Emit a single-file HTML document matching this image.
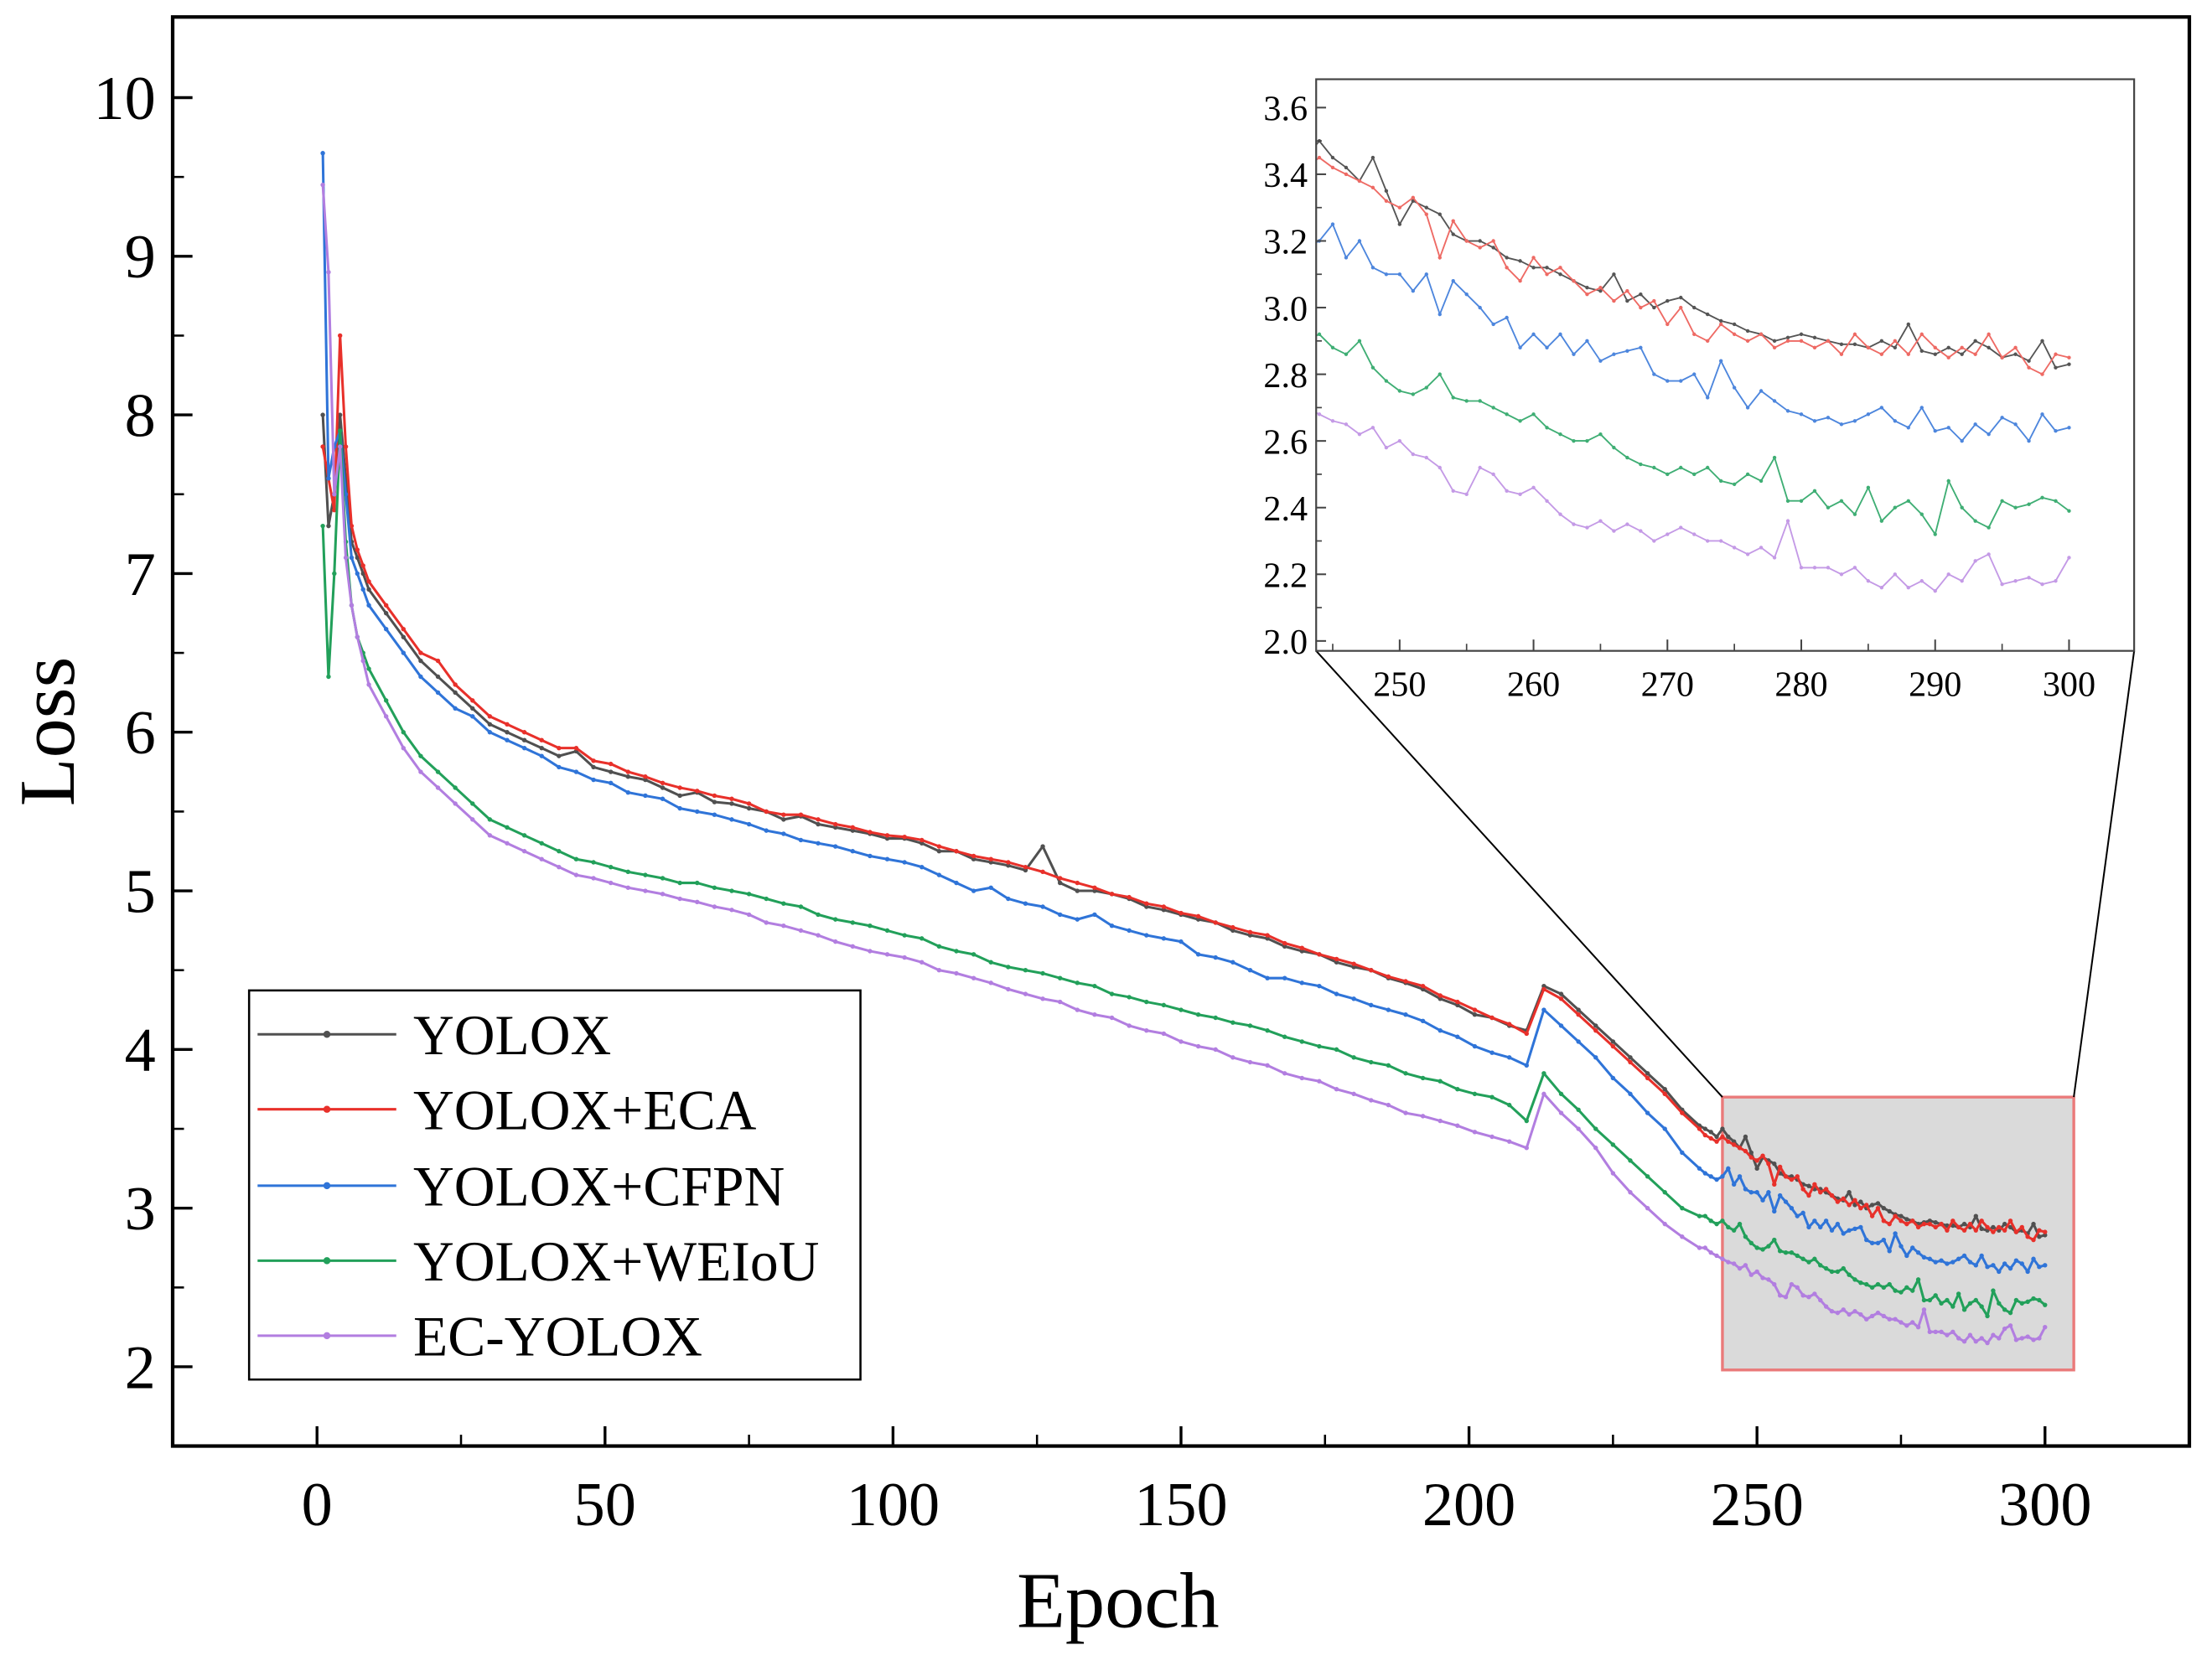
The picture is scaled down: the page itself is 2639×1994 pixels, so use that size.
<!DOCTYPE html>
<html><head><meta charset="utf-8"><style>html,body{margin:0;padding:0;background:#fff}svg{display:block}text{font-family:"Liberation Serif",serif}</style></head>
<body>
<svg id="chart" width="2639" height="1994" viewBox="0 0 1563 1181" xmlns="http://www.w3.org/2000/svg">
<defs>
<clipPath id="mainClip"><rect x="122" y="12" width="1425" height="1010"/></clipPath>
<clipPath id="insetClip"><rect x="930" y="56" width="578" height="404"/></clipPath>
</defs>
<rect x="0" y="0" width="1563" height="1181" fill="#fff"/>
<g id="zoomBox"></g>
<g id="mainSeries" clip-path="url(#mainClip)"></g>
<g id="axes"></g>
<g id="inset"></g>
<g id="legend"></g>
</svg>
<script>
const seriesNames = ["YOLOX","YOLOX+ECA","YOLOX+CFPN","YOLOX+WEIoU","EC-YOLOX"];
const xTicks = [0,50,100,150,200,250,300];
const yTicks = [2,3,4,5,6,7,8,9,10];
const insetXTicks = [250,260,270,280,290,300];
const insetYTicks = [2.0,2.2,2.4,2.6,2.8,3.0,3.2,3.4,3.6];
const epochsEarly = [1,2,3,4,5,6,7,8,9];
const epochsMidStart = 12, epochsMidEnd = 240, epochsMidStep = 3;
const epochsLateStart = 241, epochsLateEnd = 300;
const yolox = [8.0,7.3,7.5,8.0,7.6,7.2,7.1,7.0,6.9,
6.75,6.6,6.45,6.35,6.25,6.15,6.05,6.0,5.95,5.9,
5.85,5.88,5.78,5.75,5.72,5.7,5.65,5.6,5.62,5.56,
5.55,5.52,5.5,5.45,5.47,5.42,5.4,5.38,5.36,5.33,
5.33,5.3,5.25,5.25,5.2,5.18,5.16,5.13,5.28,5.05,
5.0,5.0,4.98,4.95,4.9,4.88,4.85,4.82,4.8,4.75,
4.72,4.7,4.65,4.62,4.6,4.55,4.52,4.5,4.45,4.42,
4.38,4.32,4.28,4.22,4.2,4.15,4.12,4.4,4.35,4.25,
4.15,4.05,3.95,3.85,3.75,3.62,3.52,
3.5,3.48,3.45,3.5,3.45,3.42,3.38,3.45,3.35,3.25,
3.32,3.3,3.28,3.22,3.2,3.2,3.18,3.15,3.14,3.12,
3.12,3.1,3.08,3.06,3.05,3.1,3.02,3.04,3.0,3.02,
3.03,3.0,2.98,2.96,2.95,2.93,2.92,2.9,2.91,2.92,
2.91,2.9,2.89,2.89,2.88,2.9,2.88,2.95,2.87,2.86,
2.88,2.86,2.9,2.88,2.85,2.86,2.84,2.9,2.82,2.83];
const yoloxEca = [7.8,7.6,7.4,8.5,7.8,7.3,7.15,7.05,6.95,
6.8,6.65,6.5,6.45,6.3,6.2,6.1,6.05,6.0,5.95,
5.9,5.9,5.82,5.8,5.75,5.72,5.68,5.65,5.63,5.6,
5.58,5.55,5.5,5.48,5.48,5.45,5.42,5.4,5.37,5.35,
5.34,5.32,5.28,5.25,5.22,5.2,5.18,5.15,5.12,5.08,
5.05,5.02,4.98,4.96,4.92,4.9,4.86,4.84,4.8,4.77,
4.74,4.72,4.67,4.64,4.6,4.57,4.54,4.5,4.46,4.43,
4.4,4.34,4.3,4.25,4.2,4.16,4.1,4.38,4.32,4.22,
4.12,4.02,3.92,3.82,3.72,3.6,3.5,
3.46,3.44,3.42,3.45,3.42,3.4,3.38,3.36,3.32,3.3,
3.33,3.28,3.15,3.26,3.2,3.18,3.2,3.12,3.08,3.15,
3.1,3.12,3.08,3.04,3.06,3.02,3.05,3.0,3.02,2.95,
3.0,2.92,2.9,2.95,2.92,2.9,2.92,2.88,2.9,2.9,
2.88,2.9,2.86,2.92,2.88,2.86,2.9,2.86,2.92,2.88,
2.85,2.88,2.86,2.92,2.85,2.88,2.82,2.8,2.86,2.85];
const yoloxCfpn = [9.65,7.6,7.8,7.9,7.5,7.1,7.0,6.9,6.8,
6.65,6.5,6.35,6.25,6.15,6.1,6.0,5.95,5.9,5.85,
5.78,5.75,5.7,5.68,5.62,5.6,5.58,5.52,5.5,5.48,
5.45,5.42,5.38,5.36,5.32,5.3,5.28,5.25,5.22,5.2,
5.18,5.15,5.1,5.05,5.0,5.02,4.95,4.92,4.9,4.85,
4.82,4.85,4.78,4.75,4.72,4.7,4.68,4.6,4.58,4.55,
4.5,4.45,4.45,4.42,4.4,4.35,4.32,4.28,4.25,4.22,
4.18,4.12,4.08,4.02,3.98,3.95,3.9,4.25,4.15,4.05,
3.95,3.82,3.72,3.6,3.5,3.35,3.25,
3.22,3.2,3.18,3.2,3.25,3.15,3.2,3.12,3.1,3.1,
3.05,3.1,2.98,3.08,3.04,3.0,2.95,2.97,2.88,2.92,
2.88,2.92,2.86,2.9,2.84,2.86,2.87,2.88,2.8,2.78,
2.78,2.8,2.73,2.84,2.76,2.7,2.75,2.72,2.69,2.68,
2.66,2.67,2.65,2.66,2.68,2.7,2.66,2.64,2.7,2.63,
2.64,2.6,2.65,2.62,2.67,2.65,2.6,2.68,2.63,2.64];
const yoloxWeiou = [7.3,6.35,7.0,7.9,7.2,6.8,6.6,6.5,6.4,
6.2,6.0,5.85,5.75,5.65,5.55,5.45,5.4,5.35,5.3,
5.25,5.2,5.18,5.15,5.12,5.1,5.08,5.05,5.05,5.02,
5.0,4.98,4.95,4.92,4.9,4.85,4.82,4.8,4.78,4.75,
4.72,4.7,4.65,4.62,4.6,4.55,4.52,4.5,4.48,4.45,
4.42,4.4,4.35,4.33,4.3,4.28,4.25,4.22,4.2,4.17,
4.15,4.12,4.08,4.05,4.02,4.0,3.95,3.92,3.9,3.85,
3.82,3.8,3.75,3.72,3.7,3.65,3.55,3.85,3.72,3.62,
3.5,3.4,3.3,3.2,3.1,3.0,2.95,
2.95,2.92,2.9,2.92,2.88,2.86,2.9,2.82,2.78,2.75,
2.74,2.76,2.8,2.73,2.72,2.72,2.7,2.68,2.66,2.68,
2.64,2.62,2.6,2.6,2.62,2.58,2.55,2.53,2.52,2.5,
2.52,2.5,2.52,2.48,2.47,2.5,2.48,2.55,2.42,2.42,
2.45,2.4,2.42,2.38,2.46,2.36,2.4,2.42,2.38,2.32,
2.48,2.4,2.36,2.34,2.42,2.4,2.41,2.43,2.42,2.39];
const ecYolox = [9.45,8.9,7.5,7.8,7.1,6.8,6.6,6.45,6.3,
6.1,5.9,5.75,5.65,5.55,5.45,5.35,5.3,5.25,5.2,
5.15,5.1,5.08,5.05,5.02,5.0,4.98,4.95,4.93,4.9,
4.88,4.85,4.8,4.78,4.75,4.72,4.68,4.65,4.62,4.6,
4.58,4.55,4.5,4.48,4.45,4.42,4.38,4.35,4.32,4.3,
4.25,4.22,4.2,4.15,4.12,4.1,4.05,4.02,4.0,3.95,
3.92,3.9,3.85,3.82,3.8,3.75,3.72,3.68,3.65,3.6,
3.58,3.55,3.52,3.48,3.45,3.42,3.38,3.72,3.6,3.5,
3.38,3.22,3.1,3.0,2.9,2.82,2.75,
2.75,2.72,2.7,2.68,2.66,2.65,2.62,2.64,2.58,2.6,
2.56,2.55,2.52,2.45,2.44,2.52,2.5,2.45,2.44,2.46,
2.42,2.38,2.35,2.34,2.36,2.33,2.35,2.33,2.3,2.32,
2.34,2.32,2.3,2.3,2.28,2.26,2.28,2.25,2.36,2.22,
2.22,2.22,2.2,2.22,2.18,2.16,2.2,2.16,2.18,2.15,
2.2,2.18,2.24,2.26,2.17,2.18,2.19,2.17,2.18,2.25];

const epochs = epochsEarly.slice();
for (let e = epochsMidStart; e <= epochsMidEnd; e += epochsMidStep) epochs.push(e);
for (let e = epochsLateStart; e <= epochsLateEnd; e++) epochs.push(e);

const allSeries = [yolox, yoloxEca, yoloxCfpn, yoloxWeiou, ecYolox];
const colors = ["#505050","#e8302a","#2f74d8","#22a05a","#b27ee0"];
const insetColors = ["#555","#ee6a64","#4d86dd","#3fae74","#c49ae6"];
const keys = ["yolox","yolox-eca","yolox-cfpn","yolox-weiou","ec-yolox"];

const NS = "http://www.w3.org/2000/svg";
function mk(tag, attrs, parent, txt) {
  const el = document.createElementNS(NS, tag);
  for (const k in attrs) el.setAttribute(k, attrs[k]);
  if (txt !== undefined) el.textContent = txt;
  parent.appendChild(el);
  return el;
}
const xMain = e => 224 + e * (1221 / 300);
const yMain = v => 966 - (v - 2) * 112.125;
const xIn = e => 989 + (e - 250) * 9.46;
const yIn = v => 453 - (v - 2) * 235.6;

const zb = document.getElementById("zoomBox");
const zr = mk("rect", {x: xMain(244), y: yMain(3.7), width: xMain(305) - xMain(244), height: yMain(1.98) - yMain(3.7), fill: "#dadada", stroke: "#ea7a7a", "stroke-width": 2}, zb);


const c1 = mk("line", {x1: xMain(244), y1: yMain(3.7), x2: 930, y2: 460, stroke: "#000", "stroke-width": 1.2}, zb);


const c2 = mk("line", {x1: xMain(305), y1: yMain(3.7), x2: 1508, y2: 460, stroke: "#000", "stroke-width": 1.2}, zb);



const ms = document.getElementById("mainSeries");
allSeries.forEach((vals, i) => {
  const g = mk("g", {}, ms);
  
  
  const pts = vals.map((v, j) => xMain(epochs[j]).toFixed(1) + "," + yMain(v).toFixed(1)).join(" ");
  const pl = mk("polyline", {points: pts, fill: "none", stroke: colors[i], "stroke-width": 1.8, "stroke-linejoin": "round"}, g);
  
  
  vals.forEach((v, j) => {
    const c = mk("circle", {cx: xMain(epochs[j]), cy: yMain(v), r: 1.6, fill: colors[i]}, g);
    
    
  });
});

const ax = document.getElementById("axes");
const frame = mk("rect", {x: 122, y: 12, width: 1425, height: 1010, fill: "none", stroke: "#000", "stroke-width": 2.5}, ax);


xTicks.forEach(t => {
  const x = xMain(t);
  const tk = mk("line", {x1: x, y1: 1022, x2: x, y2: 1008, stroke: "#000", "stroke-width": 2}, ax);
  
  
  const tl = mk("text", {x: x, y: 1078, "font-size": 44, "text-anchor": "middle"}, ax, String(t));
  
  
  if (t < 300) {
    const mt = mk("line", {x1: xMain(t + 25), y1: 1022, x2: xMain(t + 25), y2: 1014, stroke: "#000", "stroke-width": 1.5}, ax);
    
    
  }
});
yTicks.forEach(t => {
  const y = yMain(t);
  const tk = mk("line", {x1: 122, y1: y, x2: 136, y2: y, stroke: "#000", "stroke-width": 2}, ax);
  
  
  const tl = mk("text", {x: 110, y: y + 15, "font-size": 44, "text-anchor": "end"}, ax, String(t));
  
  
  if (t < 10) {
    const mt = mk("line", {x1: 122, y1: yMain(t + 0.5), x2: 130, y2: yMain(t + 0.5), stroke: "#000", "stroke-width": 1.5}, ax);
    
    
  }
});
const xt = mk("text", {x: 790, y: 1150, "font-size": 56, "text-anchor": "middle"}, ax, "Epoch");


const yt = mk("text", {x: 0, y: 0, "font-size": 56, "text-anchor": "middle", transform: "translate(52,517) rotate(-90)"}, ax, "Loss");



const ins = document.getElementById("inset");
const ib = mk("rect", {x: 930, y: 56, width: 578, height: 404, fill: "#fff", stroke: "none"}, ins);


const ig = mk("g", {"clip-path": "url(#insetClip)"}, ins);
allSeries.forEach((vals, i) => {
  const g = mk("g", {}, ig);
  
  
  const idx = [];
  epochs.forEach((e, j) => { if (e >= 243) idx.push(j); });
  const pts = idx.map(j => xIn(epochs[j]).toFixed(1) + "," + yIn(vals[j]).toFixed(1)).join(" ");
  const pl = mk("polyline", {points: pts, fill: "none", stroke: insetColors[i], "stroke-width": 1.1}, g);
  
  
  idx.forEach(j => {
    const c = mk("circle", {cx: xIn(epochs[j]), cy: yIn(vals[j]), r: 1.3, fill: insetColors[i]}, g);
    
    
  });
});
const ifr = mk("rect", {x: 930, y: 56, width: 578, height: 404, fill: "none", stroke: "#444", "stroke-width": 1.3}, ins);


insetXTicks.forEach(t => {
  const x = xIn(t);
  const tk = mk("line", {x1: x, y1: 460, x2: x, y2: 452, stroke: "#444", "stroke-width": 1.2}, ins);
  
  
  const tl = mk("text", {x: x, y: 492, "font-size": 25, "text-anchor": "middle"}, ins, String(t));
  
  
  const mx = xIn(t - 5);
  const mt = mk("line", {x1: mx, y1: 460, x2: mx, y2: 455, stroke: "#444", "stroke-width": 1}, ins);
  
  
});
insetYTicks.forEach(t => {
  const y = yIn(t);
  const tk = mk("line", {x1: 930, y1: y, x2: 937, y2: y, stroke: "#444", "stroke-width": 1.2}, ins);
  
  
  const tl = mk("text", {x: 924, y: y + 9, "font-size": 25, "text-anchor": "end"}, ins, t.toFixed(1));
  
  
  if (t < 3.6) {
    const mt = mk("line", {x1: 930, y1: yIn(t + 0.1), x2: 934, y2: yIn(t + 0.1), stroke: "#444", "stroke-width": 1}, ins);
    
    
  }
});

const lg = document.getElementById("legend");
const lb = mk("rect", {x: 176, y: 700, width: 432, height: 275, fill: "#fff", stroke: "#000", "stroke-width": 1.5}, lg);


const legendY = [731, 784, 838, 891, 944];
seriesNames.forEach((n, i) => {
  const g = mk("g", {}, lg);
  
  
  const y = legendY[i];
  mk("line", {x1: 182, y1: y, x2: 280, y2: y, stroke: colors[i], "stroke-width": 1.8}, g);
  mk("circle", {cx: 231, cy: y, r: 2.5, fill: colors[i]}, g);
  const tl = mk("text", {x: 292, y: y + 14, "font-size": 40}, g, n);
  
  
});
</script>
</body></html>
